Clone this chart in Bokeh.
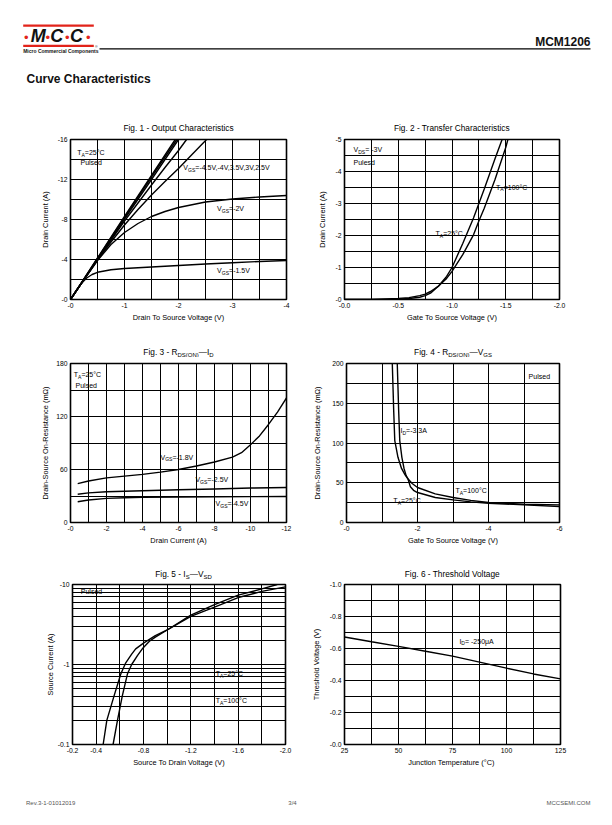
from bokeh.plotting import figure
from bokeh.models import Range1d, FixedTicker, CustomJSTickFormatter, Label, BoxAnnotation
from bokeh.layouts import column, row
from bokeh.embed import file_html
from bokeh.resources import INLINE

FONT = "Liberation Sans"
RED = "#e2231a"

# ---------------- data ----------------
# Fig. 1 - Output characteristics (VDS [V], ID [A])
f1_vgs45_vds = [0, -0.5, -1.0, -1.5, -1.94]
f1_vgs45_id = [0, -4.15, -8.3, -12.4, -16.0]
f1_vgs4_vds = [0, -0.5, -1.0, -1.5, -1.97]
f1_vgs4_id = [0, -4.1, -8.2, -12.25, -16.0]
f1_vgs35_vds = [0, -0.5, -1.0, -1.5, -2.0]
f1_vgs35_id = [0, -4.05, -8.05, -12.0, -16.0]
f1_vgs3_vds = [0, -0.5, -1.0, -1.5, -1.75, -2.0, -2.15]
f1_vgs3_id = [0, -4.0, -7.85, -11.45, -13.2, -14.9, -16.0]
f1_vgs25_vds = [0, -0.25, -0.5, -0.75, -1.0, -1.25, -1.5, -1.75, -2.0, -2.25, -2.52]
f1_vgs25_id = [0, -2.0, -3.95, -5.75, -7.45, -9.0, -10.45, -11.8, -13.1, -14.5, -16.0]
f1_vgs2_vds = [0, -0.25, -0.5, -0.75, -1.0, -1.25, -1.5, -1.75, -2.0, -2.5, -3.0, -3.5, -4.0]
f1_vgs2_id = [0, -2.0, -3.9, -5.5, -6.7, -7.6, -8.3, -8.8, -9.2, -9.75, -10.05, -10.25, -10.4]
f1_vgs15_vds = [0, -0.1, -0.2, -0.3, -0.4, -0.5, -0.75, -1.0, -1.5, -2.0, -2.5, -3.0, -3.5, -4.0]
f1_vgs15_id = [0, -0.85, -1.6, -2.15, -2.5, -2.72, -2.98, -3.1, -3.25, -3.4, -3.55, -3.68, -3.8, -3.9]

# Fig. 2 - Transfer characteristics (VGS [V], ID [A])
f2_t25_vgs = [0, -0.25, -0.5, -0.6, -0.7, -0.75, -0.8, -0.875, -0.95, -1.0, -1.1, -1.2, -1.25, -1.3, -1.4, -1.466]
f2_t25_id = [0, 0, -0.01, -0.03, -0.07, -0.12, -0.2, -0.42, -0.72, -1.0, -1.75, -2.55, -3.0, -3.45, -4.4, -5.0]
f2_t100_vgs = [0, -0.25, -0.5, -0.6, -0.7, -0.75, -0.8, -0.875, -0.95, -1.0, -1.1, -1.2, -1.25, -1.3, -1.4, -1.5, -1.52]
f2_t100_id = [0, -0.005, -0.03, -0.06, -0.12, -0.17, -0.25, -0.42, -0.66, -0.88, -1.4, -2.02, -2.45, -2.85, -3.75, -4.75, -5.0]

# Fig. 3 - RDS(ON) vs ID (ID [A], RDS [mOhm])
f3_vgs18_id = [-0.4, -1, -2, -3, -4, -5, -6, -7, -8, -9, -9.5, -10, -10.5, -11, -11.5, -12]
f3_vgs18_r = [44, 47, 50.5, 52.5, 54.5, 57, 60, 64, 68.5, 74, 79, 88, 98, 111, 125, 141]
f3_vgs25_id = [-0.4, -1, -2, -4, -6, -8, -10, -12]
f3_vgs25_r = [32, 33.5, 34.8, 36, 37, 38, 39, 39.6]
f3_vgs45_id = [-0.4, -1, -2, -3, -4, -6, -8, -10, -12]
f3_vgs45_r = [23.5, 25.5, 27.3, 28, 28.4, 28.8, 29.1, 29.3, 29.5]

# Fig. 4 - RDS(ON) vs VGS (VGS [V], RDS [mOhm])
f4_t100_vgs = [-1.29, -1.31, -1.33, -1.36, -1.45, -1.55, -1.65, -1.73, -1.85, -2.0, -2.5, -3.0, -3.5, -4.0, -4.5, -5.0, -6.0]
f4_t100_r = [200, 170, 140, 103, 82, 68, 60, 55, 49, 44, 36, 31.4, 27.8, 25.2, 24, 23, 22.2]
f4_t25_vgs = [-1.43, -1.45, -1.47, -1.50, -1.56, -1.62, -1.68, -1.73, -1.8, -1.9, -2.0, -2.5, -3.0, -3.5, -4.0, -5.0, -6.0]
f4_t25_r = [200, 170, 140, 103, 82, 68, 59, 55, 45, 40, 37.7, 31.5, 28.5, 26, 24.3, 22.2, 20.1]

# Fig. 5 - IS vs VSD (VSD [V], |IS| [A], log axis)
f5_t25_vsd = [-0.543, -0.58, -0.62, -0.664, -0.7, -0.75, -0.79, -0.85, -0.9, -1.0, -1.2, -1.4, -1.6, -1.8, -1.93]
f5_t25_is = [0.1, 0.2, 0.4, 0.76, 1.0, 1.3, 1.57, 1.95, 2.2, 2.7, 4.15, 5.6, 7.35, 8.8, 10.0]
f5_t100_vsd = [-0.459, -0.49, -0.55, -0.608, -0.65, -0.7, -0.734, -0.8, -0.9, -1.0, -1.2, -1.4, -1.6, -1.8, -2.0]
f5_t100_is = [0.1, 0.2, 0.4, 0.76, 1.05, 1.35, 1.57, 1.85, 2.3, 2.7, 4.0, 5.2, 6.87, 8.2, 9.35]

# Fig. 6 - Threshold voltage vs junction temperature
f6_tj = [25, 37.5, 50, 62.5, 75, 87.5, 100, 112.5, 125]
f6_vth = [-0.672, -0.642, -0.613, -0.583, -0.552, -0.515, -0.477, -0.441, -0.41]

# tick labels
f1_xt = [0, -1, -2, -3, -4]; f1_xl = ["-0", "-1", "-2", "-3", "-4"]
f1_yt = [0, -4, -8, -12, -16]; f1_yl = ["-0", "-4", "-8", "-12", "-16"]
f2_xt = [0, -0.5, -1.0, -1.5, -2.0]; f2_xl = ["-0.0", "-0.5", "-1.0", "-1.5", "-2.0"]
f2_yt = [0, -1, -2, -3, -4, -5]; f2_yl = ["-0", "-1", "-2", "-3", "-4", "-5"]
f3_xt = [0, -2, -4, -6, -8, -10, -12]; f3_xl = ["-0", "-2", "-4", "-6", "-8", "-10", "-12"]
f3_yt = [0, 60, 120, 180]; f3_yl = ["0", "60", "120", "180"]
f4_xt = [0, -2, -4, -6]; f4_xl = ["-0", "-2", "-4", "-6"]
f4_yt = [0, 50, 100, 150, 200]; f4_yl = ["0", "50", "100", "150", "200"]
f5_xt = [-0.2, -0.4, -0.8, -1.2, -1.6, -2.0]; f5_xl = ["-0.2", "-0.4", "-0.8", "-1.2", "-1.6", "-2.0"]
f5_yt = [0.1, 1, 10]; f5_yl = ["-0.1", "-1", "-10"]
f6_xt = [25, 50, 75, 100, 125]; f6_xl = ["25", "50", "75", "100", "125"]
f6_yt = [0, -0.2, -0.4, -0.6, -0.8, -1.0]; f6_yl = ["-0.0", "-0.2", "-0.4", "-0.6", "-0.8", "-1.0"]

# ---------------- helpers ----------------
AW = {' ': 278, '.': 278, ',': 278, '-': 333, '=': 584, '(': 333, ')': 333, '°': 400, 'μ': 576,
      '—': 1000, '/': 278, 'A': 667, 'C': 722, 'D': 722, 'F': 611, 'G': 778, 'I': 278, 'N': 722,
      'O': 778, 'P': 667, 'R': 722, 'S': 667, 'T': 611, 'V': 667, 'M': 833,
      'a': 556, 'c': 500, 'd': 556, 'e': 556, 'g': 556, 'h': 556, 'i': 222, 'l': 222, 'n': 556,
      'o': 556, 'p': 556, 'r': 333, 's': 500, 't': 278, 'u': 556, 'f': 278}


def tw(s, fs):
    return sum(AW.get(c, 556) for c in s) * fs / 1000.0


def rich(p, x, y, parts, fs=7.0, align="left", dx=0.0, dy=0.0, bg="white", pad=1):
    sub = fs * 0.72
    widths = [tw(t, sub if s else fs) for t, s in parts]
    total = sum(widths)
    start = dx - (total / 2 if align == "center" else (total if align == "right" else 0))
    labs_bg, labs = [], []
    acc = start
    for (t, s), wd in zip(parts, widths):
        size = sub if s else fs
        yo = dy - (fs * 0.32 if s else 0)
        common = dict(x=x, y=y, x_offset=acc, y_offset=yo, text=t, text_font=FONT,
                      text_font_size=f"{size:.2f}px", text_align="left", text_baseline="middle")
        if bg is not None:
            labs_bg.append(Label(text_alpha=0, background_fill_color=bg, padding=pad, **common))
        labs.append(Label(text_color="black", **common))
        acc += wd
    for l in labs_bg + labs:
        p.add_layout(l)


FMT = "const i = tv.findIndex(t => Math.abs(t - tick) < 1e-9); return i >= 0 ? lv[i] : '';"


def make_plot(w, h, bl, br, bt, bb, xr, yr, xgrid, ygrid, xt, xl, yt, yl, xlabel, ylabel,
              ystand, ylog=False, yminor=None):
    p = figure(width=w, height=h, x_range=Range1d(*xr), y_range=Range1d(*yr),
               y_axis_type="log" if ylog else "linear", output_backend="svg",
               toolbar_location=None, title=None,
               min_border_left=bl, min_border_right=br, min_border_top=bt, min_border_bottom=bb)
    p.background_fill_color = "white"
    p.border_fill_color = "white"
    p.outline_line_color = "black"
    p.outline_line_width = 1.6
    p.xgrid.ticker = FixedTicker(ticks=xgrid)
    p.ygrid.ticker = FixedTicker(ticks=ygrid, minor_ticks=yminor or [])
    for g in (p.xgrid[0], p.ygrid[0]):
        g.grid_line_color = "black"
        g.grid_line_width = 1.0
        g.grid_line_alpha = 1.0
    if yminor:
        p.ygrid[0].minor_grid_line_color = "black"
        p.ygrid[0].minor_grid_line_width = 1.0
    p.xaxis.ticker = FixedTicker(ticks=xt)
    p.xaxis.formatter = CustomJSTickFormatter(args=dict(tv=xt, lv=xl), code=FMT)
    p.yaxis.ticker = FixedTicker(ticks=yt)
    p.yaxis.formatter = CustomJSTickFormatter(args=dict(tv=yt, lv=yl), code=FMT)
    p.xaxis.axis_label = xlabel
    p.yaxis.axis_label = ylabel
    for ax in (p.xaxis[0], p.yaxis[0]):
        ax.axis_line_color = None
        ax.major_tick_line_color = None
        ax.minor_tick_line_color = None
        ax.major_tick_out = 0
        ax.major_tick_in = 0
        ax.minor_tick_out = 0
        ax.minor_tick_in = 0
        ax.major_label_text_font = FONT
        ax.major_label_text_font_size = "6.8px"
        ax.major_label_text_color = "black"
        ax.major_label_standoff = 3
        ax.axis_label_text_font = FONT
        ax.axis_label_text_font_size = "7.4px"
        ax.axis_label_text_font_style = "normal"
        ax.axis_label_text_color = "black"
    p.xaxis[0].axis_label_standoff = 2
    p.yaxis[0].axis_label_standoff = ystand
    return p


def curve(p, xs, ys):
    p.line(xs, ys, line_color="black", line_width=1.4)


def S(t):
    return (t, True)


def N(t):
    return (t, False)


def ta(v):
    return [N("T"), S("A"), N("=" + v)]


def strip(h, y0, y1):
    s = figure(width=610, height=h, x_range=Range1d(0, 610), y_range=Range1d(y1, y0),
               output_backend="svg", toolbar_location=None, title=None, min_border=0,
               x_axis_location=None, y_axis_location=None)
    s.outline_line_color = None
    s.grid.visible = False
    s.border_fill_color = "white"
    s.background_fill_color = "white"
    return s


# ---------------- header ----------------
hdr = strip(110, 0, 110)
hdr.add_layout(BoxAnnotation(left=22.7, right=93.3, top=24, bottom=26.2, fill_color=RED,
                             fill_alpha=1, line_color=None))
hdr.add_layout(BoxAnnotation(left=22.7, right=93.3, top=44.2, bottom=46.4, fill_color=RED,
                             fill_alpha=1, line_color=None))
hdr.add_layout(BoxAnnotation(left=99, right=590, top=47.7, bottom=49.0, fill_color="black",
                             fill_alpha=1, line_color=None))
for xx, tt in ((30.2, "M"), (49.8, "C"), (69.6, "C")):
    hdr.add_layout(Label(x=xx, y=35.2, text=tt, text_font=FONT, text_font_size="18px",
                         text_font_style="bold italic", text_baseline="middle",
                         text_color="#111111"))
for xx in (25.7, 47.3, 66.9, 87.7):
    hdr.add_layout(Label(x=xx, y=37.0, text="•", text_font=FONT, text_font_size="13px",
                         text_align="center", text_baseline="alphabetic", text_color=RED))
hdr.add_layout(Label(x=22.7, y=50.2, text="Micro Commercial Components", text_font=FONT,
                     text_font_size="5px", text_font_style="bold", text_baseline="middle",
                     text_color="#111111"))
hdr.add_layout(Label(x=94.5, y=46.0, text="®", text_font=FONT, text_font_size="3.5px",
                     text_baseline="middle", text_color="#111111"))
hdr.add_layout(Label(x=590, y=41.5, text="MCM1206", text_font=FONT, text_font_size="12px",
                     text_font_style="bold", text_align="right", text_baseline="middle",
                     text_color="#111111"))
hdr.add_layout(Label(x=26, y=78.5, text="Curve Characteristics", text_font=FONT,
                     text_font_size="12px", text_font_style="bold", text_baseline="middle",
                     text_color="#111111"))

# ---------------- titles ----------------
st1 = strip(23, 110, 133)
rich(st1, 178, 127.7, [N("Fig. 1 - Output Characteristics")], fs=8.3, align="center", bg=None)
rich(st1, 451.5, 127.7, [N("Fig. 2 - Transfer Characteristics")], fs=8.3, align="center", bg=None)
st2 = strip(27, 330, 357)
rich(st2, 178, 351.7, [N("Fig. 3 - R"), S("DS(ON)"), N("—I"), S("D")], fs=8.3, align="center", bg=None)
rich(st2, 452.5, 351.7, [N("Fig. 4 - R"), S("DS(ON)"), N("—V"), S("GS")], fs=8.3, align="center", bg=None)
st3 = strip(26, 553, 579)
rich(st3, 183, 573.5, [N("Fig. 5 - I"), S("S"), N("—V"), S("SD")], fs=8.3, align="center", bg=None)
rich(st3, 452, 573.5, [N("Fig. 6 - Threshold Voltage")], fs=8.3, align="center", bg=None)

# ---------------- Fig. 1 ----------------
p1 = make_plot(300, 197, 70, 14, 6, 31, (0, -4), (0, -16),
               [-0.5 * i for i in range(9)], [-2 * i for i in range(9)],
               f1_xt, f1_xl, f1_yt, f1_yl, "Drain To Source Voltage (V)", "Drain Current (A)", 5)
for xs, ys in ((f1_vgs45_vds, f1_vgs45_id), (f1_vgs4_vds, f1_vgs4_id), (f1_vgs35_vds, f1_vgs35_id),
               (f1_vgs3_vds, f1_vgs3_id), (f1_vgs25_vds, f1_vgs25_id), (f1_vgs2_vds, f1_vgs2_id),
               (f1_vgs15_vds, f1_vgs15_id)):
    curve(p1, xs, ys)
rich(p1, -0.124, -14.67, ta("25°C"), pad=2)
rich(p1, -0.185, -13.73, [N("Pulsed")], pad=2)
rich(p1, -2.09, -13.2, [N("V"), S("GS"), N("=-4.5V,-4V,3.5V,3V,2.5V")])
rich(p1, -2.715, -9.07, [N("V"), S("GS"), N("=-2V")])
rich(p1, -2.715, -2.9, [N("V"), S("GS"), N("=-1.5V")])

# ---------------- Fig. 2 ----------------
p2 = make_plot(310, 197, 44, 51, 6, 31, (0, -2.0), (0, -5),
               [-0.25 * i for i in range(9)], [-0.5 * i for i in range(11)],
               f2_xt, f2_xl, f2_yt, f2_yl, "Gate To Source Voltage (V)", "Drain Current (A)", 5)
curve(p2, f2_t25_vgs, f2_t25_id)
curve(p2, f2_t100_vgs, f2_t100_id)
rich(p2, -0.084, -4.68, [N("V"), S("DS"), N("= -3V")], pad=2)
rich(p2, -0.084, -4.29, [N("Pulesd")], pad=2)
rich(p2, -1.41, -3.51, ta("100°C"))
rich(p2, -0.847, -2.06, ta("25°C"))

# ---------------- Fig. 3 ----------------
p3 = make_plot(300, 196, 70, 14, 6, 31, (0, -12), (0, 180),
               [-1.0 * i for i in range(13)], [30 * i for i in range(7)],
               f3_xt, f3_xl, f3_yt, f3_yl, "Drain Current (A)", "Drain-Source On-Resistance (mΩ)", 3)
curve(p3, f3_vgs18_id, f3_vgs18_r)
curve(p3, f3_vgs25_id, f3_vgs25_r)
curve(p3, f3_vgs45_id, f3_vgs45_r)
rich(p3, -0.18, 167, ta("25°C"), pad=2)
rich(p3, -0.28, 155, [N("Pulsed")], pad=2)
rich(p3, -5.0, 74, [N("V"), S("GS"), N("=-1.8V")])
rich(p3, -6.94, 48.3, [N("V"), S("GS"), N("=-2.5V")])
rich(p3, -8.06, 21.2, [N("V"), S("GS"), N("=-4.5V")])

# ---------------- Fig. 4 ----------------
p4 = make_plot(310, 196, 46, 51, 6, 31, (0, -6), (0, 200),
               [-1.0 * i for i in range(7)], [25 * i for i in range(9)],
               f4_xt, f4_xl, f4_yt, f4_yl, "Gate To Source Voltage (V)",
               "Drain-Source On-Resistance (mΩ)", 7)
curve(p4, f4_t100_vgs, f4_t100_r)
curve(p4, f4_t25_vgs, f4_t25_r)
rich(p4, -5.13, 183.6, [N("Pulsed")])
rich(p4, -1.52, 115.7, [N("I"), S("D"), N("=-3.3A")])
rich(p4, -3.07, 40.3, ta("100°C"))
rich(p4, -1.32, 27.7, ta("25°C"))

# ---------------- Fig. 5 ----------------
f5_minor = [0.2, 0.3, 0.4, 0.5, 0.6, 0.7, 0.8, 0.9, 2, 3, 4, 5, 6, 7, 8, 9]
p5 = make_plot(300, 196, 72, 15, 5, 31, (-0.2, -2.0), (0.1, 10),
               [-0.2 * i for i in range(1, 11)], [0.1, 1, 10],
               f5_xt, f5_xl, f5_yt, f5_yl, "Source To Drain Voltage (V)", "Source Current (A)", 0,
               ylog=True, yminor=f5_minor)
curve(p5, f5_t25_vsd, f5_t25_is)
curve(p5, f5_t100_vsd, f5_t100_is)
rich(p5, -0.27, 8.25, [N("Pulsed")], pad=2)
rich(p5, -1.41, 0.764, ta("25°C"))
rich(p5, -1.41, 0.353, ta("100°C"))

# ---------------- Fig. 6 ----------------
p6 = make_plot(310, 196, 44, 50, 5, 31, (25, 125), (0, -1.0),
               [25 + 12.5 * i for i in range(9)], [-0.1 * i for i in range(11)],
               f6_xt, f6_xl, f6_yt, f6_yl, "Junction Temperature  (°C)", "Threshold Voltage (V)", 6)
curve(p6, f6_tj, f6_vth)
rich(p6, 78.2, -0.646, [N("I"), S("D"), N("= -250μA")])

# ---------------- footer ----------------
ftr = strip(42, 775, 817)
for xx, tt, al in ((25.5, "Rev.3-1-01012019", "left"), (292, "3/4", "center"),
                   (590, "MCCSEMI.COM", "right")):
    ftr.add_layout(Label(x=xx, y=802, text=tt, text_font=FONT, text_font_size="6px",
                         text_align=al, text_baseline="middle", text_color="#555555"))

page = column(hdr, st1, row(p1, p2), st2, row(p3, p4), st3, row(p5, p6), ftr)
open("out.html", "w").write(file_html(page, INLINE))
